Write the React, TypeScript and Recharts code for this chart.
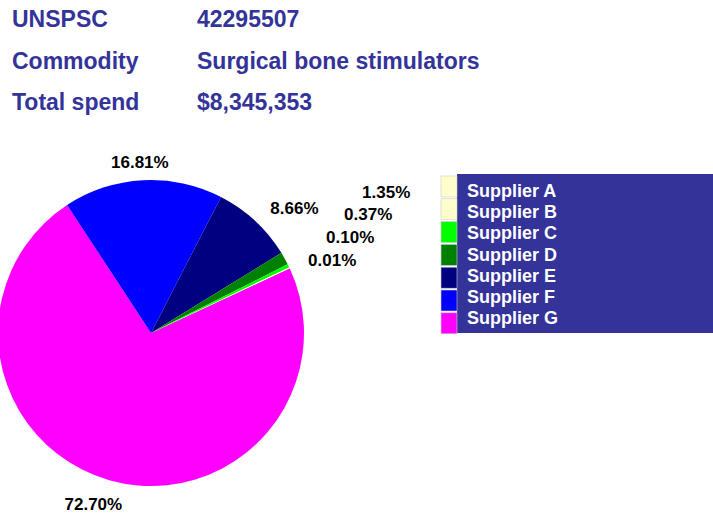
import { PieChart, Pie, Cell } from "recharts";

const suppliers = [
  "Supplier A",
  "Supplier B",
  "Supplier C",
  "Supplier D",
  "Supplier E",
  "Supplier F",
  "Supplier G",
];
const shares = [0.01, 0.1, 0.37, 1.35, 8.66, 16.81, 72.7];
const colors = ["#FFFFCC", "#FFFFCC", "#00FF00", "#008000", "#000080", "#0000FF", "#FF00FF"];

const headerLabels = ["UNSPSC", "Commodity", "Total spend"];
const headerValues = ["42295507", "Surgical bone stimulators", "$8,345,353"];

// pie runs clockwise G -> A
const pieData = suppliers
  .map((name, i) => ({ name, value: shares[i], color: colors[i] }))
  .reverse();

const FONT = "Arial, 'Liberation Sans', sans-serif";
const RADIAN = Math.PI / 180;
const NAVY = "#333399";
const START = 25;
const END = -335;

const renderLabel = (props: any) => {
  const { cx, cy, midAngle, outerRadius, index, value } = props;
  const r = outerRadius + 18;
  let x: number;
  let y: number;
  if (value < 2) {
    // thin slices: stack labels upward from the end of the pie
    const k = pieData.slice(index + 1).filter((d) => d.value < 2).length;
    const cos = Math.cos(-END * RADIAN);
    const sin = Math.sin(-END * RADIAN);
    x = cx + r * cos + cos * 40 - 10 + k * 18;
    y = cy + r * sin - 1 - k * 22.7;
  } else {
    const cos = Math.cos(-midAngle * RADIAN);
    const sin = Math.sin(-midAngle * RADIAN);
    x = cx + r * cos + cos * 40;
    y = cy + r * sin + Math.max(0, sin) * 7;
  }
  return (
    <text
      x={x}
      y={y + 6}
      textAnchor="middle"
      fill="#000"
      fontFamily={FONT}
      fontWeight="bold"
      fontSize={17}
    >
      {value.toFixed(2)}%
    </text>
  );
};

export default function App() {
  return (
    <div
      style={{
        position: "absolute",
        left: 0,
        top: 0,
        width: 713,
        height: 516,
        background: "#fff",
      }}
    >
      <PieChart
        width={713}
        height={516}
        margin={{ top: 0, right: 0, bottom: 0, left: 0 }}
        style={{ position: "absolute", left: 0, top: 0 }}
      >
        <Pie
          data={pieData}
          dataKey="value"
          nameKey="name"
          cx={151}
          cy={333}
          outerRadius={153}
          startAngle={START}
          endAngle={END}
          stroke="none"
          label={renderLabel}
          labelLine={false}
          isAnimationActive={false}
        >
          {pieData.map((d) => (
            <Cell key={d.name} fill={d.color} />
          ))}
        </Pie>
      </PieChart>
      <svg
        width={713}
        height={516}
        style={{ position: "absolute", left: 0, top: 0, pointerEvents: "none" }}
      >
        {headerLabels.map((h, i) => (
          <g key={h} fontFamily={FONT} fontWeight="bold" fontSize={23} fill={NAVY}>
            <text x={12} y={27 + i * 41.5}>
              {h}
            </text>
            <text x={197} y={27 + i * 41.5}>
              {headerValues[i]}
            </text>
          </g>
        ))}
        <rect x={457} y={174} width={256} height={159} fill={NAVY} />
        {suppliers.map((s, i) => (
          <g key={s}>
            <rect
              x={441}
              y={176 + i * 22.8}
              width={16}
              height={21}
              fill={colors[i]}
              stroke="#ccc"
              strokeWidth={0.6}
            />
            <text
              x={467}
              y={197 + i * 21.2}
              fill="#fff"
              fontFamily={FONT}
              fontWeight="bold"
              fontSize={18}
            >
              {s}
            </text>
          </g>
        ))}
      </svg>
    </div>
  );
}
